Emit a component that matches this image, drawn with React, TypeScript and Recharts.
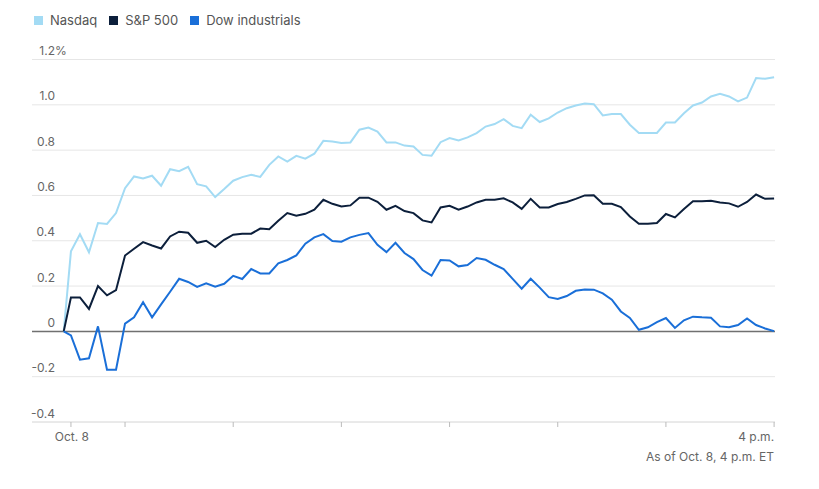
import React from 'react';
import { LineChart, Line, XAxis, YAxis, CartesianGrid, ReferenceLine } from 'recharts';

// minutes after the 9:30 open; the first point is the previous close
const minutes = [
  -4, 0, 5, 10, 15, 20, 25, 30, 35, 40, 45, 50, 55, 60, 65, 70, 75, 80, 85, 90,
  95, 100, 105, 110, 115, 120, 125, 130, 135, 140, 145, 150, 155, 160, 165, 170, 175, 180, 185, 190,
  195, 200, 205, 210, 215, 220, 225, 230, 235, 240, 245, 250, 255, 260, 265, 270, 275, 280, 285, 290,
  295, 300, 305, 310, 315, 320, 325, 330, 335, 340, 345, 350, 355, 360, 365, 370, 375, 380, 385, 390,
];

const nasdaq = [
  0, 0.353, 0.429, 0.349, 0.478, 0.474, 0.522, 0.632, 0.684, 0.675, 0.687, 0.643, 0.716, 0.707, 0.726, 0.65, 0.64, 0.593, 0.628, 0.665,
  0.681, 0.691, 0.682, 0.735, 0.772, 0.749, 0.775, 0.762, 0.784, 0.841, 0.838, 0.832, 0.834, 0.89, 0.9, 0.882, 0.834, 0.834, 0.82, 0.816,
  0.779, 0.775, 0.835, 0.853, 0.843, 0.856, 0.875, 0.904, 0.915, 0.937, 0.907, 0.897, 0.956, 0.924, 0.94, 0.966, 0.985, 0.997, 1.006, 1.003,
  0.953, 0.959, 0.959, 0.912, 0.876, 0.876, 0.876, 0.922, 0.922, 0.963, 0.997, 1.01, 1.037, 1.049, 1.037, 1.015, 1.032, 1.118, 1.115, 1.122,
];

const sp500 = [
  0, 0.15, 0.15, 0.099, 0.2, 0.159, 0.182, 0.335, 0.365, 0.394, 0.379, 0.366, 0.419, 0.44, 0.435, 0.391, 0.4, 0.372, 0.404, 0.427,
  0.431, 0.431, 0.454, 0.451, 0.488, 0.522, 0.51, 0.519, 0.537, 0.581, 0.563, 0.551, 0.556, 0.59, 0.59, 0.572, 0.537, 0.554, 0.531, 0.522,
  0.49, 0.481, 0.547, 0.554, 0.537, 0.551, 0.569, 0.581, 0.581, 0.587, 0.569, 0.541, 0.585, 0.547, 0.547, 0.562, 0.571, 0.585, 0.6, 0.601,
  0.563, 0.563, 0.549, 0.507, 0.475, 0.475, 0.478, 0.518, 0.503, 0.54, 0.574, 0.574, 0.576, 0.569, 0.565, 0.55, 0.571, 0.604, 0.585, 0.587,
];

const dow = [
  0, -0.018, -0.125, -0.119, 0.022, -0.169, -0.169, 0.034, 0.062, 0.129, 0.062, 0.119, 0.175, 0.232, 0.218, 0.196, 0.212, 0.197, 0.21, 0.245,
  0.231, 0.275, 0.256, 0.256, 0.3, 0.315, 0.335, 0.387, 0.415, 0.429, 0.399, 0.396, 0.415, 0.426, 0.434, 0.382, 0.35, 0.391, 0.346, 0.319,
  0.271, 0.246, 0.315, 0.313, 0.287, 0.293, 0.324, 0.316, 0.294, 0.275, 0.232, 0.188, 0.232, 0.193, 0.151, 0.143, 0.156, 0.179, 0.185, 0.184,
  0.168, 0.14, 0.088, 0.059, 0.007, 0.018, 0.041, 0.059, 0.015, 0.049, 0.065, 0.062, 0.06, 0.022, 0.018, 0.028, 0.057, 0.028, 0.013, 0.001,
];

const yTicks = [-0.4, -0.2, 0, 0.2, 0.4, 0.6, 0.8, 1.0, 1.2];
const xTicks = [0, 30, 90, 150, 210, 270, 330, 390];
const xTickLabels: Record<number, string> = { 0: 'Oct. 8', 390: '4 p.m.' };

const series = [
  { key: 'nasdaq', name: 'Nasdaq', color: '#a3dbf4' },
  { key: 'sp500', name: 'S&P 500', color: '#0c1f3b' },
  { key: 'dow', name: 'Dow industrials', color: '#1a6fd8' },
];

const data = minutes.map((t, i) => ({ t, nasdaq: nasdaq[i], sp500: sp500[i], dow: dow[i] }));

const FONT = 'Inter, "Noto Sans", sans-serif';

const YTick = ({ y, payload }: any) => {
  const v = payload.value;
  const label = v === 0 ? '0' : v.toFixed(1);
  return (
    <g>
      <text x={55} y={y - 4.5} textAnchor="end" fill="#666" fontSize={12} fontFamily={FONT}>{label}</text>
      {v === 1.2 && (
        <text x={55} y={y - 4.5} textAnchor="start" fill="#666" fontSize={12} fontFamily={FONT}>%</text>
      )}
    </g>
  );
};

const XTick = ({ x, y, payload }: any) => {
  const label = xTickLabels[payload.value];
  if (!label) return null;
  return (
    <text
      x={payload.value === 390 ? x : x + 1}
      y={y + 12}
      textAnchor={payload.value === 390 ? 'end' : 'middle'}
      fill="#666"
      fontSize={12}
      fontFamily={FONT}
    >
      {label}
    </text>
  );
};

export default function App() {
  return (
    <div style={{ position: 'absolute', left: 0, top: 0, width: 819, height: 489, background: '#fff', fontFamily: FONT }}>
      <div style={{ position: 'absolute', left: 34, top: 12, display: 'flex', alignItems: 'center', fontSize: 13, color: '#555', lineHeight: '16px' }}>
        {series.map((s) => (
          <div key={s.key} style={{ display: 'flex', alignItems: 'center', marginRight: 12 }}>
            <span style={{ display: 'inline-block', width: 9, height: 9, background: s.color, marginRight: 7 }} />
            <span>{s.name}</span>
          </div>
        ))}
      </div>
      <LineChart width={819} height={489} data={data} margin={{ top: 59.5, right: 44, bottom: 37, left: 8 }}>
        <CartesianGrid horizontal vertical={false} stroke="#e6e6e6" />
        <XAxis
          dataKey="t"
          type="number"
          domain={[-21.6, 390.5]}
          allowDataOverflow
          ticks={xTicks}
          interval={0}
          height={30}
          tick={<XTick />}
          tickSize={5}
          tickLine={{ stroke: '#bbb' }}
          axisLine={{ stroke: '#e0e0e0' }}
        />
        <YAxis
          type="number"
          domain={[-0.4, 1.2]}
          allowDataOverflow
          ticks={yTicks}
          interval={0}
          width={24}
          axisLine={false}
          tickLine={false}
          tick={<YTick />}
        />
        <ReferenceLine y={0} stroke="#707070" strokeWidth={1.5} />
        {series.map((s) => (
          <Line
            key={s.key}
            type="linear"
            dataKey={s.key}
            name={s.name}
            stroke={s.color}
            strokeWidth={2}
            dot={false}
            isAnimationActive={false}
          />
        ))}
      </LineChart>
      <div style={{ position: 'absolute', right: 45, top: 450, fontSize: 12, lineHeight: '14px', color: '#666' }}>
        As of Oct. 8, 4 p.m. ET
      </div>
    </div>
  );
}
